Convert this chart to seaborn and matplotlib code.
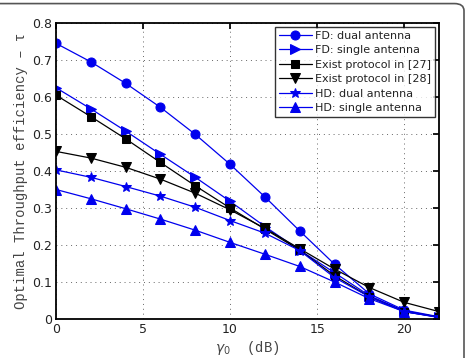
"""Optimal throughput efficiency versus gamma_0 for FD / HD / existing protocols."""
import matplotlib
matplotlib.use("Agg")
import matplotlib.pyplot as plt
import numpy as np
import pandas as pd
import seaborn as sns
from matplotlib.patches import FancyBboxPatch

gamma_db = [0, 2, 4, 6, 8, 10, 12, 14, 16, 18, 20, 22]

fd_dual = [0.745, 0.695, 0.637, 0.572, 0.499, 0.418, 0.330, 0.238, 0.148, 0.068, 0.024, 0.006]
fd_single = [0.625, 0.568, 0.508, 0.445, 0.383, 0.318, 0.250, 0.186, 0.125, 0.063, 0.022, 0.005]
exist_27 = [0.605, 0.547, 0.487, 0.423, 0.360, 0.300, 0.243, 0.186, 0.117, 0.060, 0.020, 0.005]
exist_28 = [0.453, 0.435, 0.410, 0.378, 0.340, 0.295, 0.245, 0.190, 0.135, 0.085, 0.045, 0.020]
hd_dual = [0.403, 0.383, 0.358, 0.332, 0.302, 0.266, 0.232, 0.185, 0.112, 0.060, 0.020, 0.005]
hd_single = [0.350, 0.325, 0.298, 0.270, 0.240, 0.207, 0.175, 0.142, 0.100, 0.055, 0.020, 0.004]

SERIES = [
    ("FD: dual antenna", fd_dual, "#0000ee", "o", 6.5),
    ("FD: single antenna", fd_single, "#0000ee", ">", 6.5),
    ("Exist protocol in [27]", exist_27, "black", "s", 5.5),
    ("Exist protocol in [28]", exist_28, "black", "v", 6.5),
    ("HD: dual antenna", hd_dual, "#0000ee", "*", 7.5),
    ("HD: single antenna", hd_single, "#0000ee", "^", 6.5),
]


def main() -> None:
    sns.set_theme(style="white")
    plt.rcParams["font.family"] = ["DejaVu Sans"]
    fig = plt.figure(figsize=(4.76, 3.58), dpi=100)
    ax = fig.add_axes([56 / 476, 1 - 319 / 358, (439 - 56) / 476, (319 - 23) / 358])

    for label, values, color, marker, size in SERIES:
        df = pd.DataFrame({"gamma": gamma_db, "eff": values})
        sns.lineplot(
            data=df, x="gamma", y="eff", ax=ax, color=color, marker=marker,
            markersize=size, markeredgecolor=color, linewidth=0.9, label=label,
        )

    ax.set_xlim(0, 22)
    ax.set_ylim(0, 0.8)
    ax.set_xticks([0, 5, 10, 15, 20])
    ax.set_yticks(np.arange(0, 0.81, 0.1))
    ax.set_yticklabels(["0", "0.1", "0.2", "0.3", "0.4", "0.5", "0.6", "0.7", "0.8"])
    ax.tick_params(direction="in", top=True, right=True, length=4, labelsize=9, pad=3,
                   colors="black", labelcolor="#222222")
    ax.grid(True, linestyle=(0, (1, 4)), color="#666666", linewidth=0.7)
    for spine in ax.spines.values():
        spine.set_color("black")
        spine.set_linewidth(1.3)

    ax.set_xlabel(r"$\gamma_0$  (dB)", family="Liberation Mono", fontsize=10, labelpad=2, color="#444444")
    ax.set_ylabel("Optimal Throughput efficiency \u2013 \u03c4", family="Liberation Mono",
                  fontsize=10, labelpad=3, color="#444444")

    leg = ax.legend(loc="upper right", fontsize=8, frameon=True, fancybox=False,
                    borderaxespad=0.35, handlelength=3.0, labelspacing=0.4,
                    borderpad=0.35, handletextpad=0.3)
    leg.get_frame().set_edgecolor("black")
    leg.get_frame().set_linewidth(1.0)
    for text in leg.get_texts():
        text.set_color("#222222")

    frame = FancyBboxPatch((-0.02, -0.1), 464 / 476 + 0.02, 1.09, transform=fig.transFigure,
                           boxstyle="round,pad=0,rounding_size=0.02", facecolor="none",
                           edgecolor="#555555", linewidth=1.2)
    fig.patches.append(frame)

    fig.savefig("out.png", dpi=100, facecolor="white")
    plt.close(fig)


if __name__ == "__main__":
    main()
